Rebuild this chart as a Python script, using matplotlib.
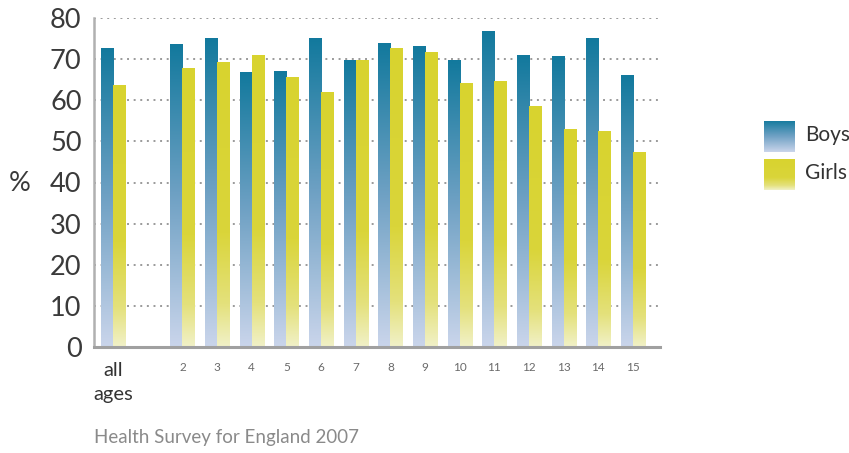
import numpy as np
import matplotlib
matplotlib.use("Agg")
import matplotlib.pyplot as plt
from matplotlib.colors import LinearSegmentedColormap

categories = ['all\nages', '2', '3', '4', '5', '6', '7', '8', '9', '10', '11', '12', '13', '14', '15']
boys = [72.7, 73.5, 74.9, 66.7, 66.9, 74.9, 69.6, 73.7, 73.0, 69.6, 76.6, 71.0, 70.6, 74.9, 65.9]
girls = [63.5, 67.6, 69.3, 70.8, 65.5, 62.0, 69.6, 72.5, 71.5, 64.0, 64.5, 58.4, 53.0, 52.3, 47.2]
yticks = [0, 10, 20, 30, 40, 50, 60, 70, 80]
source = "Health Survey for England 2007"

FONT = ['Lato', 'DejaVu Sans']
plt.rcParams['font.family'] = FONT

W, H = 849, 453
fig = plt.figure(figsize=(W / 100, H / 100), dpi=100)
ax = fig.add_axes([94 / W, (H - 347) / H, (660 - 94) / W, (347 - 18) / H])

boys_cmap = LinearSegmentedColormap.from_list('boys', [(0, '#CAD5EB'), (0.5, '#6FA1C4'), (1, '#12799D')])
girls_cmap = LinearSegmentedColormap.from_list('girls', [(0, '#F1F1C8'), (0.15, '#E4E17C'), (0.4, '#DAD53A'), (1, '#D8D32F')])
grad = np.linspace(0, 1, 256).reshape(-1, 1)

# positions: "all ages" then a gap, then ages 2..15
pos = [0] + [i + 1 for i in range(1, len(categories))]
bw = 0.35

for x, b, g in zip(pos, boys, girls):
    ax.imshow(grad, cmap=boys_cmap, origin='lower', aspect='auto',
              extent=[x - bw, x, 0, b], zorder=3, interpolation='bilinear')
    ax.imshow(grad, cmap=girls_cmap, origin='lower', aspect='auto',
              extent=[x, x + bw, 0, g], zorder=3, interpolation='bilinear')

for yv in yticks[1:]:
    ax.axhline(yv, color='#9a9a9a', lw=1.4, linestyle=(0, (1, 2.4)), zorder=1)

ax.set_xlim(-0.55, 15.78)
ax.set_ylim(0, 80)

for s in ['top', 'right']:
    ax.spines[s].set_visible(False)
ax.spines['left'].set_color('#b0b0b0')
ax.spines['left'].set_linewidth(1.8)
ax.spines['bottom'].set_color('#a0a0a0')
ax.spines['bottom'].set_linewidth(2.2)
ax.spines['left'].set_zorder(5)
ax.spines['bottom'].set_zorder(5)

ax.set_yticks(yticks)
ax.set_yticklabels([str(v) for v in yticks], fontsize=19.5, color='#3a3a3a')
ax.tick_params(axis='y', length=0, pad=9)

ax.set_xticks(pos)
ax.set_xticklabels(categories)
ax.tick_params(axis='x', length=0, pad=11)
for i, lab in enumerate(ax.get_xticklabels()):
    if i == 0:
        lab.set_fontsize(14.5)
        lab.set_color('#333333')
        lab.set_linespacing(1.5)
    else:
        lab.set_fontsize(8.5)
        lab.set_color('#6a6a6a')

fig.text(20 / W, 1 - 183 / H, '%', fontsize=19.5, color='#3a3a3a', ha='center', va='center')

# legend
for name, cmap, y0 in [('Boys', boys_cmap, 121), ('Girls', girls_cmap, 159)]:
    lax = fig.add_axes([764 / W, 1 - (y0 + 31) / H, 31 / W, 31 / H])
    lax.imshow(grad, cmap=cmap, origin='lower', aspect='auto', extent=[0, 1, 0, 1])
    lax.set_axis_off()
    fig.text(805 / W, 1 - (y0 + 14) / H, name, fontsize=15, color='#333333', va='center', ha='left')

fig.text(94 / W, 1 - 438 / H, source, fontsize=13.5, color='#8a8a8a', va='center', ha='left')

fig.savefig('out.png', dpi=100)
